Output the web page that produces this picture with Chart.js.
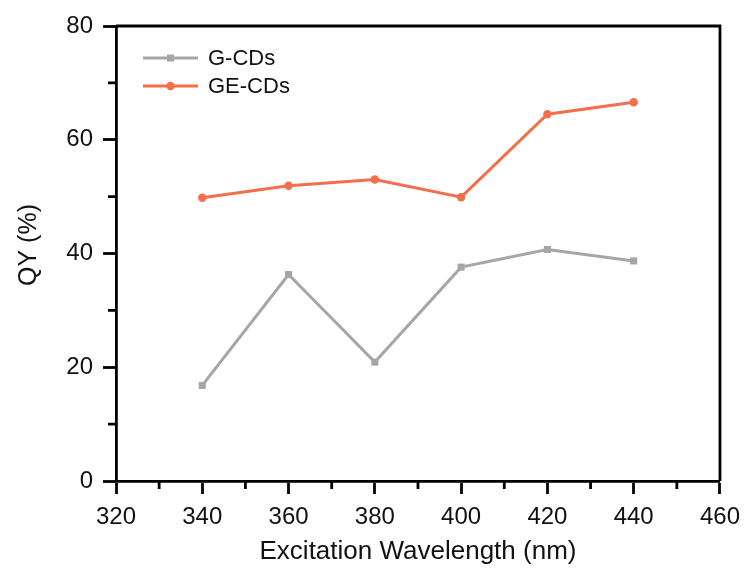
<!DOCTYPE html>
<html>
<head>
<meta charset="utf-8">
<script src="https://cdn.jsdelivr.net/npm/chart.js@4"></script>
<style>
html,body{margin:0;padding:0;background:#fff;}
#wrap{width:749px;height:570px;}
</style>
</head>
<body>
<div id="wrap"><canvas id="c" width="749" height="570"></canvas></div>
<script>
const wavelengths = [340, 360, 380, 400, 420, 440];
const gCDs = [16.8, 36.3, 20.9, 37.6, 40.7, 38.7];
const geCDs = [49.8, 51.9, 53.0, 49.9, 64.5, 66.6];
const seriesNames = ['G-CDs', 'GE-CDs'];
const xTicks = [320, 340, 360, 380, 400, 420, 440, 460];
const yTicks = [0, 20, 40, 60, 80];
const xTitle = 'Excitation Wavelength (nm)';
const yTitle = 'QY (%)';

const FONT = "'Liberation Sans', Arial, sans-serif";
const AXW = 2.8;
const TXT = '#111';

const frameAndMinor = {
  id: 'frameAndMinor',
  afterDraw(chart) {
    const {ctx, chartArea: a, scales} = chart;
    ctx.save();
    ctx.strokeStyle = '#000';
    ctx.lineWidth = AXW;
    ctx.beginPath();
    ctx.moveTo(a.left, a.top);
    ctx.lineTo(a.right, a.top);
    ctx.lineTo(a.right, a.bottom);
    ctx.stroke();
    // minor ticks
    ctx.beginPath();
    for (let i = 0; i < xTicks.length - 1; i++) {
      const v = (xTicks[i] + xTicks[i + 1]) / 2;
      const px = scales.x.getPixelForValue(v);
      ctx.moveTo(px, a.bottom);
      ctx.lineTo(px, a.bottom + 8);
    }
    for (let i = 0; i < yTicks.length - 1; i++) {
      const v = (yTicks[i] + yTicks[i + 1]) / 2;
      const py = scales.y.getPixelForValue(v);
      ctx.moveTo(a.left, py);
      ctx.lineTo(a.left - 8, py);
    }
    ctx.stroke();
    // y title
    ctx.save();
    ctx.translate(29, 245);
    ctx.rotate(-Math.PI / 2);
    ctx.font = '25px ' + FONT;
    ctx.fillStyle = TXT;
    ctx.textAlign = 'center';
    ctx.textBaseline = 'middle';
    ctx.fillText(yTitle, 0, 0);
    ctx.restore();
    // legend
    const rows = [58, 86];
    ctx.font = '22px ' + FONT;
    ctx.textBaseline = 'middle';
    ctx.textAlign = 'left';
    chart.data.datasets.forEach((ds, i) => {
      const y = rows[i];
      ctx.strokeStyle = ds.borderColor;
      ctx.lineWidth = ds.borderWidth;
      ctx.beginPath();
      ctx.moveTo(143, y);
      ctx.lineTo(198, y);
      ctx.stroke();
      ctx.fillStyle = ds.borderColor;
      if (ds.pointStyle === 'rect') {
        const s = 3.5;
        ctx.fillRect(170.5 - s, y - s, 2 * s, 2 * s);
      } else {
        ctx.beginPath();
        ctx.arc(170.5, y, 4.2, 0, Math.PI * 2);
        ctx.fill();
      }
      ctx.fillStyle = TXT;
      ctx.fillText(ds.label, 208, y + 1);
    });
    ctx.restore();
  }
};

new Chart(document.getElementById('c'), {
  type: 'line',
  data: {
    datasets: [
      {
        label: seriesNames[0],
        data: wavelengths.map((x, i) => ({x, y: gCDs[i]})),
        borderColor: '#A6A6A6',
        backgroundColor: '#A6A6A6',
        borderWidth: 3,
        pointStyle: 'rect',
        pointRadius: 5,
        pointBorderWidth: 0,
        tension: 0
      },
      {
        label: seriesNames[1],
        data: wavelengths.map((x, i) => ({x, y: geCDs[i]})),
        borderColor: '#F36F4C',
        backgroundColor: '#F36F4C',
        borderWidth: 3,
        pointStyle: 'circle',
        pointRadius: 4.2,
        pointBorderWidth: 0,
        tension: 0
      }
    ]
  },
  options: {
    responsive: false,
    animation: false,
    layout: {padding: {top: 26, right: 28, left: 0, bottom: 0}},
    plugins: {legend: {display: false}, tooltip: {enabled: false}},
    scales: {
      x: {
        type: 'linear',
        min: 320, max: 460,
        afterBuildTicks(s) { s.ticks = xTicks.map(v => ({value: v})); },
        afterFit(s) { s.height = 89; },
        grid: {display: true, drawOnChartArea: false, drawTicks: true, tickLength: 13, tickWidth: AXW, tickColor: '#000'},
        border: {display: true, color: '#000', width: AXW},
        ticks: {color: TXT, font: {family: FONT, size: 24}, padding: 9, maxRotation: 0},
        title: {display: true, text: xTitle, color: TXT, font: {family: FONT, size: 26}, padding: {top: 0, bottom: 3}}
      },
      y: {
        type: 'linear',
        min: 0, max: 80,
        afterBuildTicks(s) { s.ticks = yTicks.map(v => ({value: v})); },
        afterFit(s) { s.width = 116; },
        grid: {display: true, drawOnChartArea: false, drawTicks: true, tickLength: 13, tickWidth: AXW, tickColor: '#000'},
        border: {display: true, color: '#000', width: AXW},
        ticks: {color: TXT, font: {family: FONT, size: 24}, padding: 10},
        title: {display: false}
      }
    }
  },
  plugins: [frameAndMinor]
});
</script>
</body>
</html>
